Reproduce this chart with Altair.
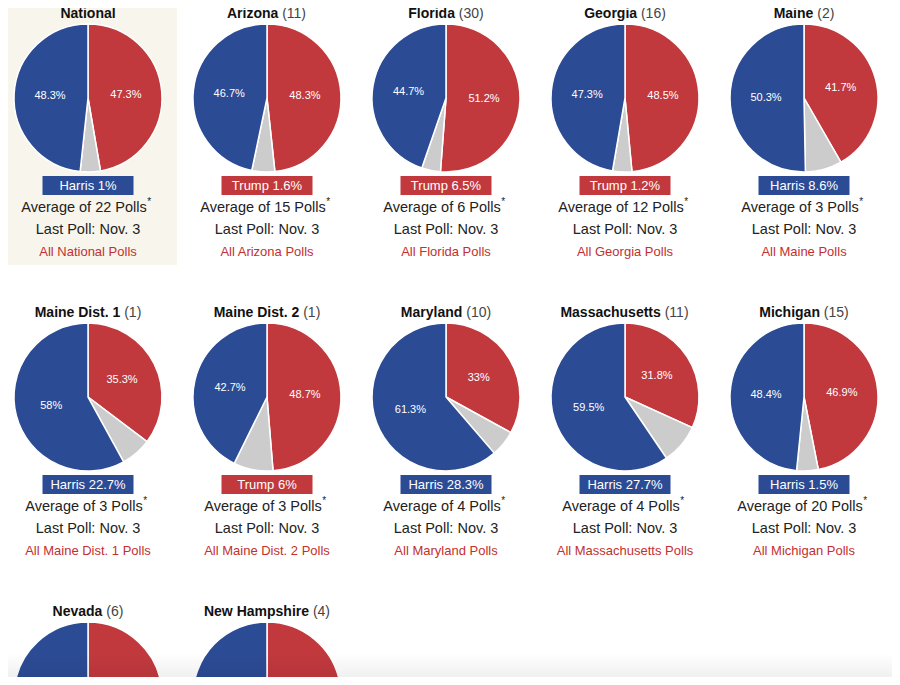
import math
import altair as alt
import pandas as pd

# ---------------- data ----------------
names = ["National", "Arizona", "Florida", "Georgia", "Maine",
         "Maine Dist. 1", "Maine Dist. 2", "Maryland", "Massachusetts", "Michigan",
         "Nevada", "New Hampshire"]
electoral_votes = [0, 11, 30, 16, 2, 1, 1, 10, 11, 15, 6, 4]
harris = [48.3, 46.7, 44.7, 47.3, 50.3, 58.0, 42.7, 61.3, 59.5, 48.4, 47.3, 50.8]
trump = [47.3, 48.3, 51.2, 48.5, 41.7, 35.3, 48.7, 33.0, 31.8, 46.9, 48.2, 44.2]
polls = [22, 15, 6, 12, 3, 3, 3, 4, 4, 20, 7, 5]
last_poll = ["Nov. 3"] * 12

# ---------------- style ----------------
BLUE = "#2c4b95"
RED = "#c1393d"
GREY = "#cccccc"
LINK = "#c3302f"
BEIGE = "#f8f5ec"
FONT = "Liberation Sans"
TITLE_SIZE = 14
BODY_SIZE = 14.5
NCOLS = 5
ASTER_BOX = 8.0  # room kept for the superscript asterisk

# approximate Helvetica/Arial advance widths (per 1000 em) for centring composite lines
BOLD_W = {" ": 278, ".": 278, "A": 722, "D": 722, "F": 611, "G": 778, "H": 722, "M": 833,
          "N": 722, "a": 556, "c": 556, "d": 611, "e": 556, "g": 611, "h": 611, "i": 278,
          "l": 278, "m": 889, "n": 611, "o": 611, "p": 611, "r": 389, "s": 556, "t": 333,
          "u": 611, "v": 556, "w": 778, "y": 556, "z": 500}
REG_W = {" ": 278, "(": 333, ")": 333, "A": 667, "P": 667, "v": 500, "e": 556, "r": 333,
         "a": 556, "g": 556, "o": 556, "f": 278, "l": 222, "s": 500}


def text_width(s, table, size):
    return sum(table.get(ch, 556) for ch in s) * size / 1000.0


def fmt(v):
    s = f"{v:.1f}"
    return s[:-2] if s.endswith(".0") else s


SPACE = text_width(" ", REG_W, TITLE_SIZE)

state_rows = []
slice_rows = []
for i, n in enumerate(names):
    margin = round(harris[i] - trump[i], 1)
    leader = "Harris" if margin > 0 else "Trump"
    ev_txt = f"({electoral_votes[i]})" if electoral_votes[i] else ""
    wb = text_width(n, BOLD_W, TITLE_SIZE)
    wr = (SPACE + text_width(ev_txt, REG_W, TITLE_SIZE)) if ev_txt else 0.0
    avg_txt = f"Average of {polls[i]} Polls"
    wa = text_width(avg_txt, REG_W, BODY_SIZE)
    state_rows.append(dict(
        name=n, col=i % NCOLS, row=i // NCOLS, ev_txt=ev_txt,
        title_dx=(wb - wr) / 2.0, leader=leader,
        margin_txt=f"{leader} {fmt(abs(margin))}%",
        avg_txt=avg_txt, avg_dx=-ASTER_BOX / 2.0, ast_dx=wa / 2.0 - ASTER_BOX / 2.0 + 0.5,
        last_txt=f"Last Poll: {last_poll[i]}",
        link_txt=f"All {n} Polls",
    ))
    other = round(100 - harris[i] - trump[i], 1)
    for k, (cand, v) in enumerate([("Trump", trump[i]), ("Other", other), ("Harris", harris[i])]):
        slice_rows.append(dict(name=n, col=i % NCOLS, row=i // NCOLS, candidate=cand,
                               value=v, seq=k,
                               label=(f"{fmt(v)}%" if cand != "Other" else "")))

states = pd.DataFrame(state_rows)
pie = pd.DataFrame(slice_rows)

# ---------------- scales ----------------
xs = alt.Scale(type="point", domain=[0, 1, 2, 3, 4], range=[80, 796], padding=0)
ys = alt.Scale(domain=[0, 2], range=[90, 688], nice=False, zero=False)
ths = alt.Scale(domain=[0, 100], range=[0, 2 * math.pi])
X = alt.X("col:O", scale=xs, axis=None)
Y = alt.Y("row:Q", scale=ys, axis=None, stack=False)
X2 = alt.X2("col")
Y2 = alt.Y2("row")

base_states = alt.Chart(states)

background = base_states.transform_filter(alt.datum.name == "National").mark_rect(
    color=BEIGE, xOffset=-80, x2Offset=89, yOffset=-90, y2Offset=167, clip=True
).encode(x=X, x2=X2, y=Y, y2=Y2)

pie_base = alt.Chart(pie).transform_window(
    cum="sum(value)", groupby=["name"], sort=[alt.SortField("seq")], frame=[None, 0]
).transform_calculate(
    start="datum.cum - datum.value", mid="datum.cum - datum.value / 2"
)

arcs = pie_base.mark_arc(radius=74, stroke="white", strokeWidth=1.5, clip=True).encode(
    x=X, y=Y,
    theta=alt.Theta("start:Q", scale=ths, stack=False),
    theta2=alt.Theta2("cum:Q"),
    color=alt.Color("candidate:N",
                    scale=alt.Scale(domain=["Harris", "Trump", "Other"], range=[BLUE, RED, GREY]),
                    legend=None),
)

pie_labels = pie_base.transform_filter(alt.datum.candidate != "Other").mark_text(
    radius=38, font=FONT, fontSize=11, color="white", clip=True
).encode(
    x=X, y=Y,
    theta=alt.Theta("mid:Q", scale=ths, stack=False),
    text="label:N",
)

title_name = base_states.mark_text(
    font=FONT, fontSize=TITLE_SIZE, fontWeight="bold", color="#111111",
    align="right", baseline="alphabetic", yOffset=-80
).encode(x=X, y=Y, xOffset=alt.XOffset("title_dx:Q", scale=None), text="name:N")

title_ev = base_states.mark_text(
    font=FONT, fontSize=TITLE_SIZE, color="#444444", dx=SPACE,
    align="left", baseline="alphabetic", yOffset=-80
).encode(x=X, y=Y, xOffset=alt.XOffset("title_dx:Q", scale=None), text="ev_txt:N")

box = base_states.mark_rect(
    xOffset=-45.5, x2Offset=45.5, yOffset=78, y2Offset=97, clip=True
).encode(
    x=X, x2=X2, y=Y, y2=Y2,
    color=alt.condition(alt.datum.leader == "Harris", alt.value(BLUE), alt.value(RED)),
)

box_text = base_states.mark_text(
    font=FONT, fontSize=13, color="white", baseline="middle", yOffset=87.5, clip=True
).encode(x=X, y=Y, text="margin_txt:N")

avg_text = base_states.mark_text(
    font=FONT, fontSize=BODY_SIZE, color="#222222", baseline="middle", yOffset=109.5, clip=True
).encode(x=X, y=Y, xOffset=alt.XOffset("avg_dx:Q", scale=None), text="avg_txt:N")

asterisk = base_states.mark_text(
    font=FONT, fontSize=10, color="#222222", align="left", baseline="middle",
    yOffset=104, clip=True, text="*"
).encode(x=X, y=Y, xOffset=alt.XOffset("ast_dx:Q", scale=None))

last_text = base_states.mark_text(
    font=FONT, fontSize=BODY_SIZE, color="#222222", baseline="middle", yOffset=131.5, clip=True
).encode(x=X, y=Y, text="last_txt:N")

link_text = base_states.mark_text(
    font=FONT, fontSize=13, color=LINK, baseline="middle", yOffset=153.5, clip=True
).encode(x=X, y=Y, text="link_txt:N")

fade = base_states.transform_filter(alt.datum.name == "National").mark_rect(
    fill=alt.LinearGradient(
        gradient="linear", x1=0, x2=0, y1=0, y2=1,
        stops=[alt.GradientStop(color="rgba(0,0,0,0)", offset=0),
               alt.GradientStop(color="rgba(0,0,0,0.06)", offset=1)],
    )
).encode(x=alt.value(0), x2=alt.value(884), y=alt.value(645), y2=alt.value(669))

chart = alt.layer(
    background, arcs, pie_labels, title_name, title_ev, box, box_text,
    avg_text, asterisk, last_text, link_text, fade
).properties(
    width=884, height=669, padding=0,
    autosize=alt.AutoSizeParams(type="none"),
).configure_view(stroke=None)

chart.save("out.html", embed_options={"renderer": "svg", "actions": False})
